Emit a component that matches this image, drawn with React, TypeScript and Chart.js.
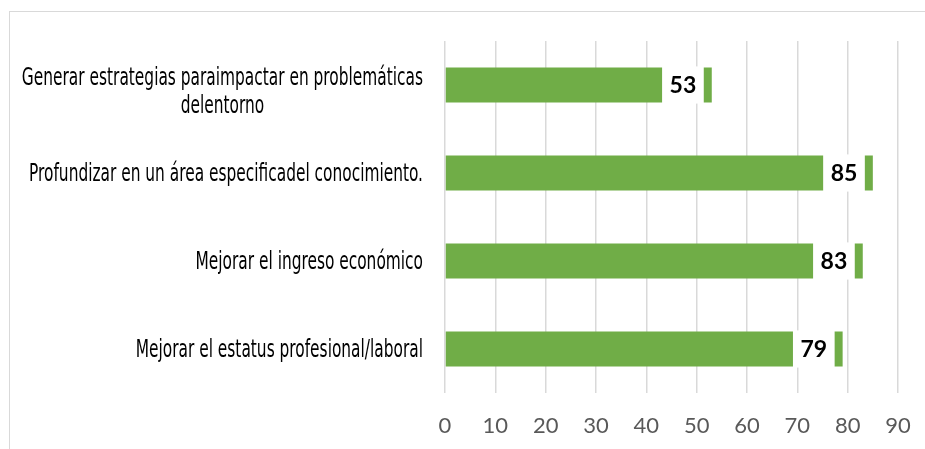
import React, { useEffect, useRef } from "react";
import { Chart, registerables } from "chart.js";

Chart.register(...registerables);

const categories: string[][] = [
  ["Generar estrategias paraimpactar en problemáticas", "delentorno"],
  ["Profundizar en un área especificadel conocimiento."],
  ["Mejorar el ingreso económico"],
  ["Mejorar el estatus profesional/laboral"],
];
const values = [53, 85, 83, 79];
const xMin = 0;
const xMax = 90;
const xStep = 10;

const BAR_COLOR = "#70ad47";
const GRID_COLOR = "#d9d9d9";
const LABEL_FONT = '"Liberation Sans Narrow", "DejaVu Sans Condensed", "Noto Sans", sans-serif';
const LABEL_SCALE_X = 0.685;

const categoryLabelsPlugin = {
  id: "categoryLabels",
  afterDraw(chart: any) {
    const ctx = chart.ctx as CanvasRenderingContext2D;
    const yScale = chart.scales.y;
    const rightX = chart.chartArea.left - 22;
    ctx.save();
    ctx.font = `25px ${LABEL_FONT}`;
    ctx.fillStyle = "#000000";
    ctx.textBaseline = "middle";
    ctx.textAlign = "center";
    categories.forEach((lines, i) => {
      const y = yScale.getPixelForValue(i);
      const maxW = Math.max(...lines.map((l) => ctx.measureText(l).width));
      const lh = 28;
      const startY = y - ((lines.length - 1) * lh) / 2 + 1 + (lines.length - 1) * 6;
      ctx.save();
      ctx.translate(rightX, 0);
      ctx.scale(LABEL_SCALE_X, 1);
      lines.forEach((line, j) => {
        ctx.fillText(line, -maxW / 2, startY + j * lh);
      });
      ctx.restore();
    });
    ctx.restore();
  },
};

const valueLabelsPlugin = {
  id: "valueLabels",
  afterDatasetsDraw(chart: any) {
    const ctx = chart.ctx as CanvasRenderingContext2D;
    const meta = chart.getDatasetMeta(0);
    ctx.save();
    ctx.font = 'bold 23px Lato, "Open Sans", sans-serif';
    ctx.textBaseline = "middle";
    ctx.textAlign = "center";
    meta.data.forEach((el: any, i: number) => {
      const text = String(values[i]);
      const tw = ctx.measureText(text).width;
      const w = tw + 15;
      const h = el.height + 2;
      const right = el.x - 8;
      ctx.fillStyle = "#ffffff";
      ctx.fillRect(right - w, el.y - h / 2, w, h);
      ctx.fillStyle = "#000000";
      ctx.fillText(text, right - w / 2, el.y + 1);
    });
    ctx.restore();
  },
};

export default function App() {
  const canvasRef = useRef<HTMLCanvasElement | null>(null);

  useEffect(() => {
    if (!canvasRef.current) return;
    const chart = new Chart(canvasRef.current, {
      type: "bar",
      data: {
        labels: categories.map((c) => c.join(" ")),
        datasets: [
          {
            data: values,
            backgroundColor: BAR_COLOR,
            borderColor: BAR_COLOR,
            borderWidth: 0,
            barPercentage: 0.4,
            categoryPercentage: 1,
          },
        ],
      },
      options: {
        indexAxis: "y",
        animation: false,
        responsive: false,
        maintainAspectRatio: false,
        layout: { padding: { top: 41, right: 27, left: 0, bottom: 0 } },
        plugins: {
          legend: { display: false },
          tooltip: { enabled: false },
        },
        scales: {
          x: {
            min: xMin,
            max: xMax,
            ticks: {
              stepSize: xStep,
              color: "#595959",
              font: { family: 'Lato, "Open Sans", sans-serif', size: 22 },
              padding: 20,
            },
            grid: { color: GRID_COLOR, lineWidth: 1.5, drawTicks: false },
            border: { display: false },
            afterFit(scale: any) {
              scale.height = 56;
              scale.paddingLeft = 0;
              scale.paddingRight = 0;
            },
          },
          y: {
            ticks: { display: false },
            grid: { display: false },
            border: { display: false },
            afterFit(scale: any) {
              scale.width = 445;
            },
          },
        },
      },
      plugins: [valueLabelsPlugin, categoryLabelsPlugin],
    });
    return () => chart.destroy();
  }, []);

  return (
    <div
      style={{
        position: "fixed",
        left: 0,
        top: 0,
        width: 925,
        height: 449,
        background: "#ffffff",
        overflow: "hidden",
      }}
    >
      <div
        style={{
          position: "absolute",
          left: 9,
          top: 11,
          width: 940,
          height: 460,
          borderTop: "1px solid #d9d9d9",
          borderLeft: "1px solid #d9d9d9",
        }}
      />
      <canvas
        ref={canvasRef}
        width={925}
        height={449}
        style={{ position: "absolute", left: 0, top: 0, width: 925, height: 449 }}
      />
    </div>
  );
}
